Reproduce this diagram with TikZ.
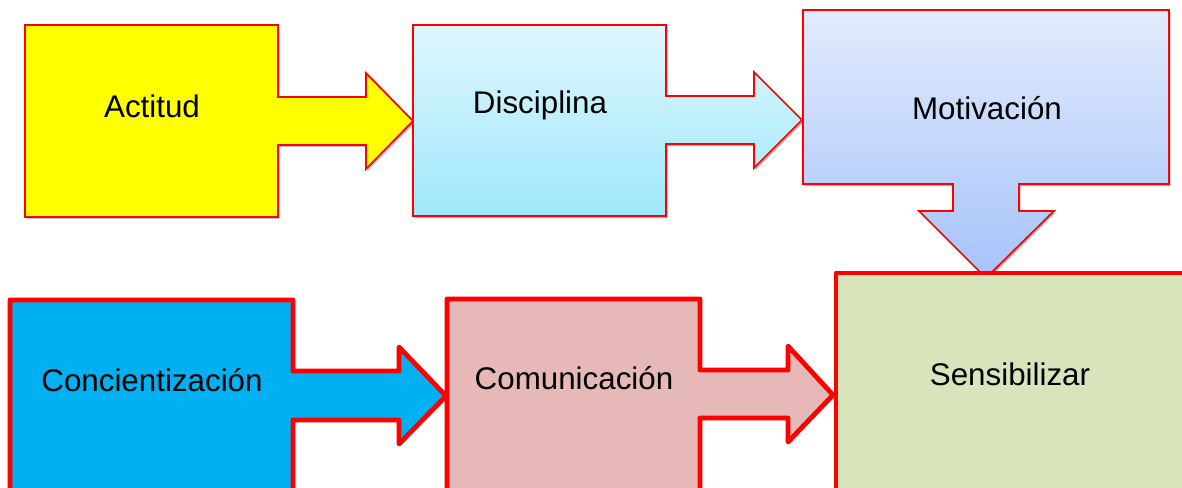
\documentclass[tikz,border=0pt]{standalone}
\usepackage{fontspec}
\setmainfont{Liberation Sans}
\usetikzlibrary{shadows}
\definecolor{arred}{HTML}{FF0000}
\definecolor{ylw}{HTML}{FFFF00}
\definecolor{discTop}{HTML}{DFF7FE}
\definecolor{discBot}{HTML}{9FE7FB}
\definecolor{motTop}{HTML}{E2EBFC}
\definecolor{motBot}{HTML}{A6C3FB}
\definecolor{conc}{HTML}{00B0F0}
\definecolor{comu}{HTML}{E6B8B7}
\definecolor{sens}{HTML}{D8E4BC}
\tikzset{
  topshape/.style={draw=arred, line width=1.3pt, line join=miter,
    drop shadow={shadow xshift=1.2pt, shadow yshift=-1.5pt, opacity=0.25, fill=black}},
  botshape/.style={draw=arred, line width=3.6pt, line join=round},
  lbl/.style={font=\fontsize{23.5}{28}\selectfont, text=black, inner sep=0pt}
}
\begin{document}
\begin{tikzpicture}[x=0.75pt,y=-0.75pt]
\useasboundingbox (0,0) rectangle (1182,487);
\clip (0,0) rectangle (1182,487);
\fill[white] (0,0) rectangle (1182,487);
% top row
\path[topshape, fill=ylw] (25,25) -- (278,25) -- (278,97) -- (366,97) -- (366,73) -- (413,121)
  -- (366,169) -- (366,145) -- (278,145) -- (278,217) -- (25,217) -- cycle;
\path[topshape, top color=discTop, bottom color=discBot] (413,25) -- (666,25) -- (666,96) -- (754,96) -- (754,72) -- (802,120)
  -- (754,168) -- (754,144) -- (666,144) -- (666,216) -- (413,216) -- cycle;
\path[topshape, top color=motTop, bottom color=motBot] (803,10) -- (1169,10) -- (1169,184) -- (1019,184) -- (1019,211) -- (1054,211)
  -- (986,278) -- (919,211) -- (953,211) -- (953,184) -- (803,184) -- cycle;
% bottom row
\path[botshape, fill=sens] (836,273) -- (1200,273) -- (1200,500) -- (836,500) -- cycle;
\path[botshape, fill=comu] (447,299) -- (700,299) -- (700,370) -- (788,370) -- (788,346) -- (833,395)
  -- (788,442) -- (788,418) -- (700,418) -- (700,500) -- (447,500) -- cycle;
\path[botshape, fill=conc] (10,300) -- (293,300) -- (293,371) -- (399,371) -- (399,347) -- (446,396)
  -- (399,444) -- (399,420) -- (293,420) -- (293,500) -- (10,500) -- cycle;
% labels
\node[lbl] (actitud) at (152,106) {Actitud};
\node[lbl] (disciplina) at (540,105) {Disciplina};
\node[lbl] (motivacion) at (987,108) {Motivación};
\node[lbl] (concientizacion) at (152,380) {Concientización};
\node[lbl] (comunicacion) at (574,378) {Comunicación};
\node[lbl] (sensibilizar) at (1010,374) {Sensibilizar};
\end{tikzpicture}
\end{document}
